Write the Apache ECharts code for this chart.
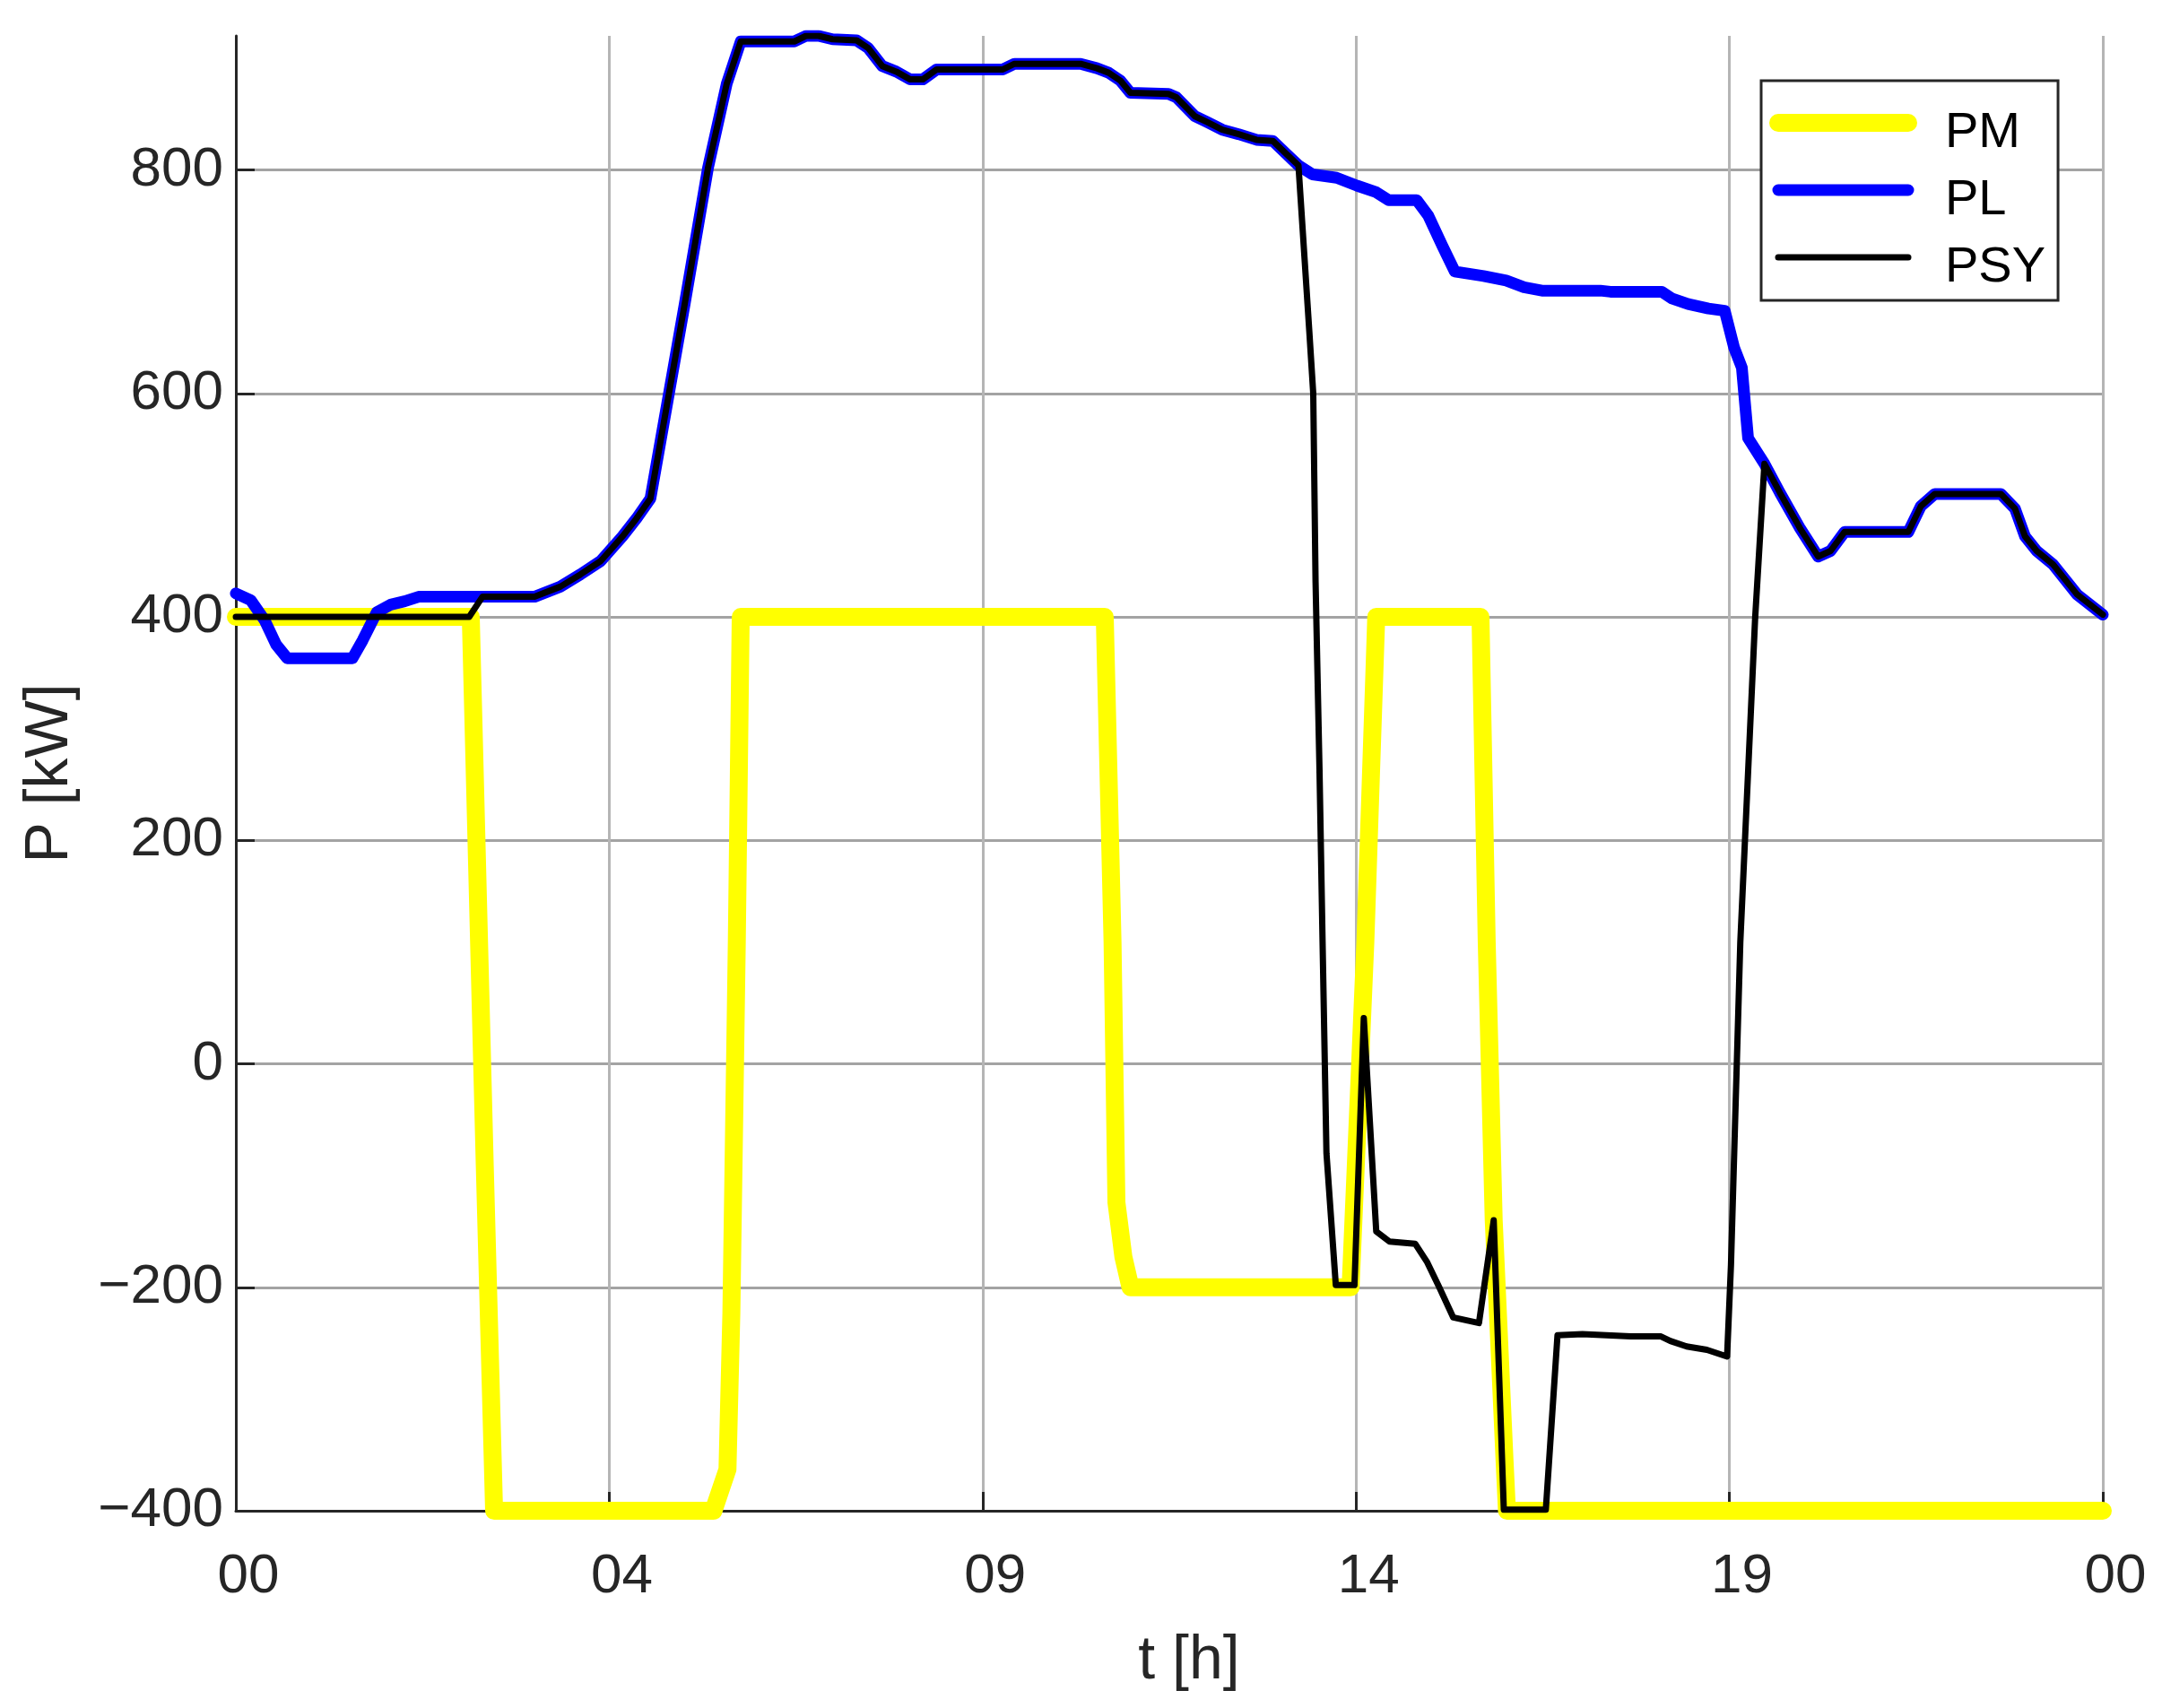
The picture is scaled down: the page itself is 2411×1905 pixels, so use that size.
<!DOCTYPE html>
<html>
<head>
<meta charset="utf-8">
<script src="https://cdn.jsdelivr.net/npm/echarts@6/dist/echarts.min.js"></script>
<style>
html,body{margin:0;padding:0;background:#fff;}
#chart{width:2411px;height:1905px;}
</style>
</head>
<body>
<div id="chart"></div>
<script>
// ---- data (time in hours, power in kW) ----
var xTickLabels = ['00', '04', '09', '14', '19', '00'];
var yTickValues = [-400, -200, 0, 200, 400, 600, 800];

var pmTimes  = [0, 3.02, 3.2, 3.32, 6.14, 6.32, 6.37, 6.44, 6.49, 11.17, 11.27, 11.32, 11.41, 11.5, 14.33, 14.52, 14.66, 16.0, 16.08, 16.17, 16.31, 16.34, 24];
var pmValues = [400, 400, -91, -400, -400, -363, -223, 109, 400, 400, 109, -124, -173, -200, -200, 109, 400, 400, 109, -140, -356, -400, -400];

var plTimes  = [0, 0.19, 0.37, 0.52, 0.66, 1.5, 1.63, 1.81, 1.99, 2.17, 2.35, 3.84, 4.17, 4.43, 4.69, 4.97, 5.15, 5.33, 5.77, 6.07, 6.31, 6.49, 7.18, 7.33, 7.49, 7.67, 7.98, 8.13, 8.31, 8.49, 8.67, 8.83, 9.01, 9.86, 10.01, 10.86, 11.07, 11.22, 11.37, 11.5, 11.99, 12.09, 12.33, 12.48, 12.68, 12.89, 13.12, 13.33, 13.51, 13.66, 13.84, 14.15, 14.41, 14.66, 14.82, 15.18, 15.33, 15.51, 15.67, 16.04, 16.33, 16.56, 16.79, 17.54, 17.67, 18.33, 18.46, 18.67, 18.93, 19.14, 19.26, 19.36, 19.44, 19.65, 19.85, 20.11, 20.34, 20.5, 20.68, 21.5, 21.66, 21.84, 22.69, 22.87, 23.0, 23.15, 23.36, 23.67, 24];
var plValues = [421, 415, 397, 375, 363, 363, 379, 404, 411, 414, 418, 418, 427, 438, 450, 472, 488, 506, 680, 802, 877, 915, 915, 920, 920, 917, 916, 909, 893, 888, 881, 881, 890, 890, 895, 895, 891, 887, 880, 869, 868, 865, 848, 843, 836, 832, 827, 826, 814, 804, 796, 793, 786, 780, 773, 773, 759, 732, 709, 705, 701, 695, 692, 692, 691, 691, 685, 680, 676, 674, 641, 623, 560, 537, 511, 479, 454, 459, 476, 476, 499, 510, 510, 497, 472, 459, 447, 420, 402];

var psyTimes  = [0, 3.0, 3.17, 3.84, 4.17, 4.43, 4.69, 4.97, 5.15, 5.33, 5.77, 6.07, 6.31, 6.49, 7.18, 7.33, 7.49, 7.67, 7.98, 8.13, 8.31, 8.49, 8.67, 8.83, 9.01, 9.86, 10.01, 10.86, 11.07, 11.22, 11.37, 11.5, 11.99, 12.09, 12.33, 12.48, 12.68, 12.89, 13.12, 13.33, 13.51, 13.66, 13.8, 13.85, 13.88, 13.93, 13.97, 14.02, 14.14, 14.38, 14.5, 14.66, 14.83, 15.16, 15.31, 15.47, 15.65, 15.98, 16.17, 16.3, 16.84, 16.99, 17.31, 17.93, 18.32, 18.44, 18.65, 18.91, 19.17, 19.22, 19.34, 19.53, 19.65, 19.85, 20.11, 20.34, 20.5, 20.68, 21.5, 21.66, 21.84, 22.69, 22.87, 23.0, 23.15, 23.36, 23.67, 24];
var psyValues = [400, 400, 418, 418, 427, 438, 450, 472, 488, 506, 680, 802, 877, 915, 915, 920, 920, 917, 916, 909, 893, 888, 881, 881, 890, 890, 895, 895, 891, 887, 880, 869, 868, 865, 848, 843, 836, 832, 827, 826, 814, 804, 655, 600, 431, 265, 109, -80, -198, -198, 41, -150, -159, -161, -177, -200, -227, -232, -140, -399, -399, -243, -242, -244, -244, -248, -253, -256, -262, -180, 109, 398, 537, 511, 479, 454, 459, 476, 476, 499, 510, 510, 497, 472, 459, 447, 420, 402];

function pairs(ts, vs) {
  var out = [];
  for (var i = 0; i < ts.length; i++) out.push([ts[i], vs[i]]);
  return out;
}

var FONT = 'Liberation Sans, Arial, Helvetica, sans-serif';
var TXT = '#262626';

var chart = echarts.init(document.getElementById('chart'), null, {renderer: 'canvas'});
chart.setOption({
  animation: false,
  backgroundColor: '#ffffff',
  grid: {left: 263, right: 66, top: 40, bottom: 220, containLabel: false},
  legend: {
    orient: 'vertical',
    left: 1964,
    top: 90,
    padding: [7, 14, 8, 9],
    itemWidth: 145,
    itemHeight: 20,
    itemGap: -5,
    borderColor: '#262626',
    borderWidth: 3,
    backgroundColor: '#ffffff',
    itemStyle: {opacity: 0, borderWidth: 0},
    lineStyle: {width: 'inherit', cap: 'round'},
    formatter: '{t|{name}}',
    textStyle: {
      fontFamily: FONT, fontSize: 56, color: '#000',
      rich: {
        t: {fontFamily: FONT, fontSize: 56, color: '#000', lineHeight: 40, padding: [24, 0, 0, 36]}
      }
    },
    data: ['PM', 'PL', 'PSY']
  },
  xAxis: {
    type: 'value',
    min: 0,
    max: 24,
    interval: 4.8,
    name: 't [h]',
    nameLocation: 'middle',
    nameGap: 134,
    nameTextStyle: {fontFamily: FONT, fontSize: 68, color: TXT, padding: [0, 0, 0, 44]},
    axisLine: {show: true, onZero: false, lineStyle: {color: TXT, width: 3}},
    axisTick: {show: true, inside: true, length: 21, lineStyle: {color: TXT, width: 3}},
    axisLabel: {
      fontFamily: FONT, fontSize: 62, color: TXT, margin: 43,
      padding: [0, 0, 0, 28],
      formatter: function (v) { return xTickLabels[Math.round(v / 4.8)]; }
    },
    splitLine: {show: true, lineStyle: {color: '#b5b5b5', width: 3}}
  },
  yAxis: {
    type: 'value',
    min: -400,
    max: 920,
    interval: 200,
    name: 'P [kW]',
    nameLocation: 'middle',
    nameGap: 173,
    nameRotate: 90,
    nameTextStyle: {fontFamily: FONT, fontSize: 68, color: TXT},
    axisLine: {show: true, lineStyle: {color: TXT, width: 3}},
    axisTick: {show: true, inside: true, length: 21, customValues: yTickValues, lineStyle: {color: TXT, width: 3}},
    axisLabel: {
      fontFamily: FONT, fontSize: 62, color: TXT, margin: 14,
      customValues: yTickValues,
      padding: [10, 0, 0, 0],
      formatter: function (v) { return v < 0 ? '\u2212' + Math.abs(v) : String(v); }
    },
    splitLine: {show: true, lineStyle: {color: '#a3a3a3', width: 3}}
  },
  series: [
    {
      name: 'PM', type: 'line', data: pairs(pmTimes, pmValues),
      showSymbol: false, symbol: 'none',
      lineStyle: {color: '#ffff00', width: 20, cap: 'round', join: 'round'},
      itemStyle: {color: '#ffff00'}
    },
    {
      name: 'PL', type: 'line', data: pairs(plTimes, plValues),
      showSymbol: false, symbol: 'none',
      lineStyle: {color: '#0000ff', width: 13, cap: 'round', join: 'round'},
      itemStyle: {color: '#0000ff'}
    },
    {
      name: 'PSY', type: 'line', data: pairs(psyTimes, psyValues),
      showSymbol: false, symbol: 'none',
      lineStyle: {color: '#000000', width: 7, cap: 'round', join: 'round'},
      itemStyle: {color: '#000000'}
    }
  ]
});
</script>
</body>
</html>
